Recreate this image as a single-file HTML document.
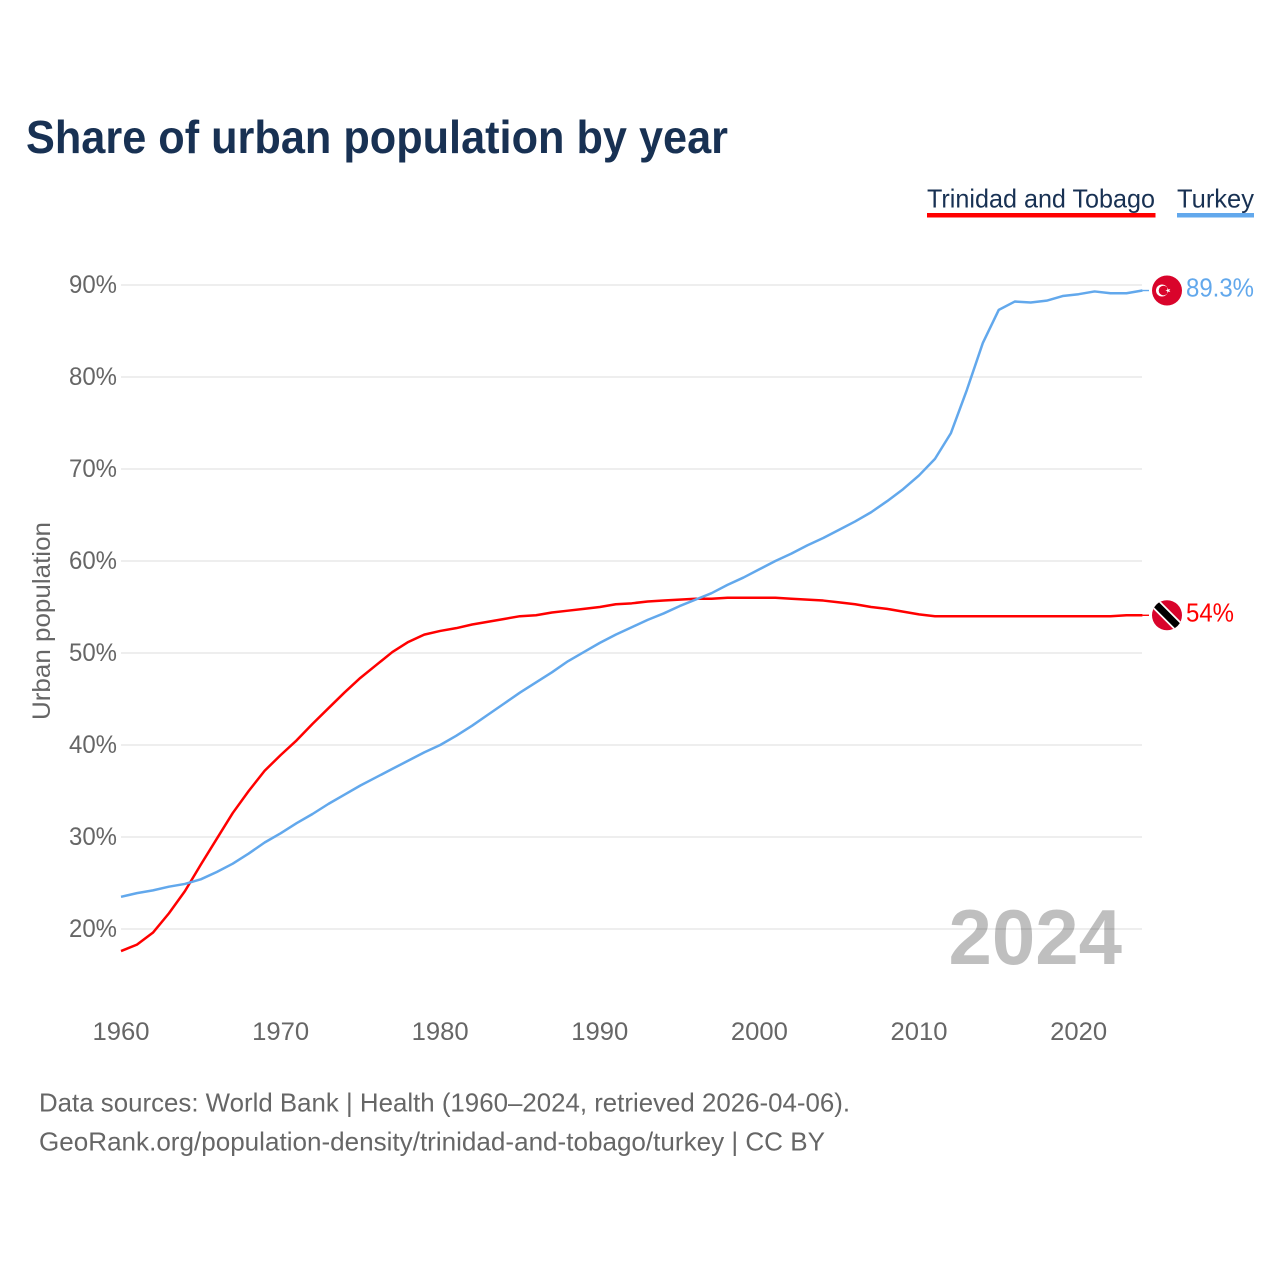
<!DOCTYPE html>
<html lang="en">
<head>
<meta charset="utf-8">
<title>Share of urban population by year</title>
<style>
html,body{margin:0;padding:0;background:#fff;}
svg{display:block;font-family:"Liberation Sans",sans-serif;}
</style>
</head>
<body>
<svg id="chart" width="1280" height="1280" viewBox="0 0 1280 1280" xmlns="http://www.w3.org/2000/svg">
  <rect width="1280" height="1280" fill="#fff"/>
  <text x="26" y="153" font-size="46" font-weight="700" fill="#183153" textLength="702" lengthAdjust="spacingAndGlyphs">Share of urban population by year</text>

  <g>
    <text x="927" y="207.5" font-size="26" fill="#183153" textLength="228" lengthAdjust="spacingAndGlyphs">Trinidad and Tobago</text>
    <rect x="927" y="213" width="228.5" height="4.5" fill="#ff0000"/>
  </g>
  <g>
    <text x="1177" y="207.5" font-size="26" fill="#183153" textLength="77" lengthAdjust="spacingAndGlyphs">Turkey</text>
    <rect x="1177" y="213" width="77" height="4.5" fill="#62a8ec"/>
  </g>

  <g id="grid"></g>
  <g id="y-ticks"></g>
  <g id="x-ticks"></g>
  <text transform="translate(50,720) rotate(-90)" font-size="25" fill="#666" textLength="198" lengthAdjust="spacingAndGlyphs">Urban population</text>

  <text id="year-label" x="1122" y="964" text-anchor="end" font-size="78" font-weight="700" fill="#000" fill-opacity="0.25">2024</text>

  <g id="series"></g>
  <g id="ends"></g>

  <text x="39" y="1111.5" font-size="26" fill="#666" textLength="811" lengthAdjust="spacingAndGlyphs">Data sources: World Bank | Health (1960–2024, retrieved 2026-04-06).</text>
  <text x="39" y="1150.5" font-size="26" fill="#666" textLength="786" lengthAdjust="spacingAndGlyphs">GeoRank.org/population-density/trinidad-and-tobago/turkey | CC BY</text>
</svg>
<script>
const startYear = 1960;
const trinidadValues = [17.6,18.3,19.6,21.7,24.1,27,29.8,32.6,35,37.2,38.9,40.5,42.3,44,45.7,47.3,48.7,50.1,51.2,52,52.4,52.7,53.1,53.4,53.7,54,54.1,54.4,54.6,54.8,55,55.3,55.4,55.6,55.7,55.8,55.9,55.9,56,56,56,56,55.9,55.8,55.7,55.5,55.3,55,54.8,54.5,54.2,54,54,54,54,54,54,54,54,54,54,54,54,54.1,54.1];
const turkeyValues = [23.5,23.9,24.2,24.6,24.9,25.4,26.2,27.1,28.2,29.4,30.4,31.5,32.5,33.6,34.6,35.6,36.5,37.4,38.3,39.2,40,41,42.1,43.3,44.5,45.7,46.8,47.9,49.1,50.1,51.1,52,52.8,53.6,54.3,55.1,55.8,56.5,57.4,58.2,59.1,60,60.8,61.7,62.5,63.4,64.3,65.3,66.5,67.8,69.3,71.1,73.9,78.6,83.7,87.3,88.2,88.1,88.3,88.8,89,89.3,89.1,89.1,89.4];
const yTickValues = [20,30,40,50,60,70,80,90];
const xTickValues = [1960,1970,1980,1990,2000,2010,2020];
const trinidadLabel = "54%";
const turkeyLabel = "89.3%";

const NS = "http://www.w3.org/2000/svg";
function xScale(year){ return 121 + (year - 1960) * 15.96; }
function yScale(pct){ return 929 - (pct - 20) * 9.2; }
function make(tag, attrs, parent, text){
  const el = document.createElementNS(NS, tag);
  for (const k in attrs) el.setAttribute(k, attrs[k]);
  if (text !== undefined) el.textContent = text;
  parent.appendChild(el);
  return el;
}
const gridG = document.getElementById("grid");
const yG = document.getElementById("y-ticks");
const xG = document.getElementById("x-ticks");
const seriesG = document.getElementById("series");
const endsG = document.getElementById("ends");

yTickValues.forEach(function(v){
  const line = make("line", {x1:121, x2:1142, y1:yScale(v), y2:yScale(v), stroke:"#eeeeee", "stroke-width":2}, gridG);
  
  
  const t = make("text", {x:117, y:yScale(v)+8, "text-anchor":"end", "font-size":25, fill:"#666", textLength:48, lengthAdjust:"spacingAndGlyphs"}, yG, v + "%");
  
  
});
xTickValues.forEach(function(v){
  const t = make("text", {x:xScale(v), y:1040, "text-anchor":"middle", "font-size":25, fill:"#666", textLength:57, lengthAdjust:"spacingAndGlyphs"}, xG, String(v));
  
  
});

function linePath(values){
  return values.map(function(v,i){
    return (i ? "L" : "M") + xScale(startYear + i).toFixed(2) + " " + yScale(v).toFixed(2);
  }).join(" ");
}
function drawEnd(values, color, labelText, labelWidth, key){
  const lastX = xScale(startYear + values.length - 1);
  const lastY = yScale(values[values.length - 1]);
  const conn = make("line", {x1:lastX, x2:1149, y1:lastY, y2:lastY, stroke:color, "stroke-width":1.4}, endsG);
  
  
  const g = make("g", {transform:"translate(1167," + lastY + ")"}, endsG);
  
  
  make("circle", {r:15, fill:"#d9042b"}, g);
  if (key === "turkey") {
    make("circle", {cx:-5, cy:0, r:6, fill:"#fff"}, g);
    make("circle", {cx:-3.5, cy:0, r:4.8, fill:"#d9042b"}, g);
    make("polygon", {points:"-1.6,0 0.3,0.6 0.3,2.6 1.5,1 3.4,1.6 2.2,0 3.4,-1.6 1.5,-1 0.3,-2.6 0.3,-0.6", fill:"#fff"}, g);
  } else {
    make("clipPath", {id:"tt-clip"}, g);
    make("circle", {r:15}, g.lastChild);
    const s = make("g", {"clip-path":"url(#tt-clip)"}, g);
    make("line", {x1:-16, y1:-16, x2:16, y2:16, stroke:"#fff", "stroke-width":10.5}, s);
    make("line", {x1:-16, y1:-16, x2:16, y2:16, stroke:"#000", "stroke-width":7}, s);
  }
  const t = make("text", {x:1186, y:lastY + 6, "font-size":26, fill:color, textLength:labelWidth, lengthAdjust:"spacingAndGlyphs"}, endsG, labelText);
  
  
}
const trinidadPath = make("path", {d:linePath(trinidadValues), fill:"none", stroke:"#ff0000", "stroke-width":2.5, "stroke-linejoin":"round"}, seriesG);


const turkeyPath = make("path", {d:linePath(turkeyValues), fill:"none", stroke:"#62a8ec", "stroke-width":2.5, "stroke-linejoin":"round"}, seriesG);


drawEnd(trinidadValues, "#ff0000", trinidadLabel, 48, "trinidad-and-tobago");
drawEnd(turkeyValues, "#62a8ec", turkeyLabel, 68, "turkey");
</script>
</body>
</html>
